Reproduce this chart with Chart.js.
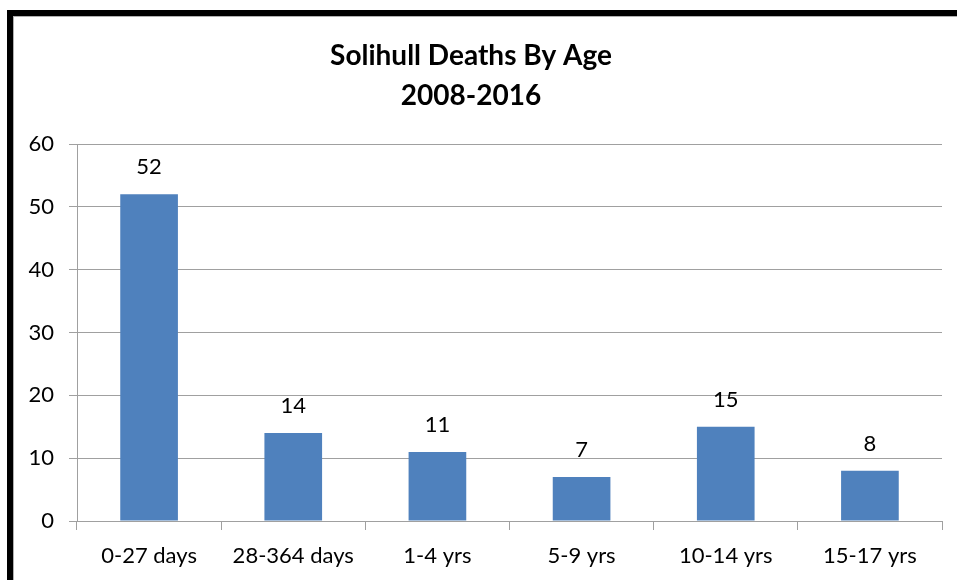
<!DOCTYPE html>
<html>
<head>
<meta charset="utf-8">
<script src="https://cdn.jsdelivr.net/npm/chart.js@4.4.1/dist/chart.umd.min.js"></script>
<style>
  html, body { margin: 0; padding: 0; background: #fff; }
  #wrap { position: relative; width: 957px; height: 580px; overflow: hidden; }
  #frame { position: absolute; left: 7px; top: 10px; width: 1000px; height: 1000px;
           border-left: 6px solid #000; border-top: 6px solid #000;
           box-shadow: inset 1px 1px 0 #b0b0b0; }
  canvas { position: absolute; left: 0; top: 0; }
</style>
</head>
<body>
<div id="wrap">
  <canvas id="deaths-chart" width="957" height="580"></canvas>
  <div id="frame"></div>
</div>
<script>
// 연령대별 사망자 수
const ageGroups = ['0-27 days', '28-364 days', '1-4 yrs', '5-9 yrs', '10-14 yrs', '15-17 yrs'];
const deaths = [52, 14, 11, 7, 15, 8];
const titleLines = ['Solihull Deaths By Age', '2008-2016'];

// 막대 위에 값 표시
const valueLabels = {
  id: 'valueLabels',
  afterDatasetsDraw(chart) {
    const ctx = chart.ctx;
    const meta = chart.getDatasetMeta(0);
    ctx.save();
    ctx.font = '22px Lato';
    ctx.fillStyle = '#000';
    ctx.textAlign = 'center';
    ctx.textBaseline = 'middle';
    meta.data.forEach((bar, i) => {
      ctx.fillText(deaths[i], bar.x, bar.y - 27);
    });
    ctx.restore();
  }
};

const ctx = document.getElementById('deaths-chart').getContext('2d');
new Chart(ctx, {
  type: 'bar',
  data: {
    labels: ageGroups,
    datasets: [{
      data: deaths,
      backgroundColor: '#4F81BD',
      borderWidth: 0,
      categoryPercentage: 1,
      barPercentage: 0.4,
    }]
  },
  options: {
    responsive: false,
    animation: false,
    layout: { padding: { left: 0, right: 15, top: 0, bottom: 0 } },
    plugins: {
      legend: { display: false },
      tooltip: { enabled: false },
      title: {
        display: true,
        text: titleLines,
        color: '#000',
        font: { family: 'Lato', size: 28, weight: 'bold', lineHeight: 1.43 },
        padding: { top: 36, bottom: 28 },
      },
    },
    scales: {
      x: {
        afterFit(scale) { scale.height = 59; },
        ticks: { color: '#000', font: { family: 'Lato', size: 22 }, padding: 13, maxRotation: 0 },
        grid: { drawOnChartArea: false, drawTicks: true, tickLength: 9, color: '#a0a0a0', offset: true },
        border: { color: '#a0a0a0' },
      },
      y: {
        min: 0,
        max: 60,
        afterFit(scale) { scale.width = 77; },
        ticks: { stepSize: 10, color: '#000', font: { family: 'Lato', size: 22 }, padding: 15 },
        grid: { color: '#a0a0a0', tickLength: 8 },
        border: { color: '#a0a0a0' },
      },
    },
  },
  plugins: [valueLabels],
});
</script>
</body>
</html>
